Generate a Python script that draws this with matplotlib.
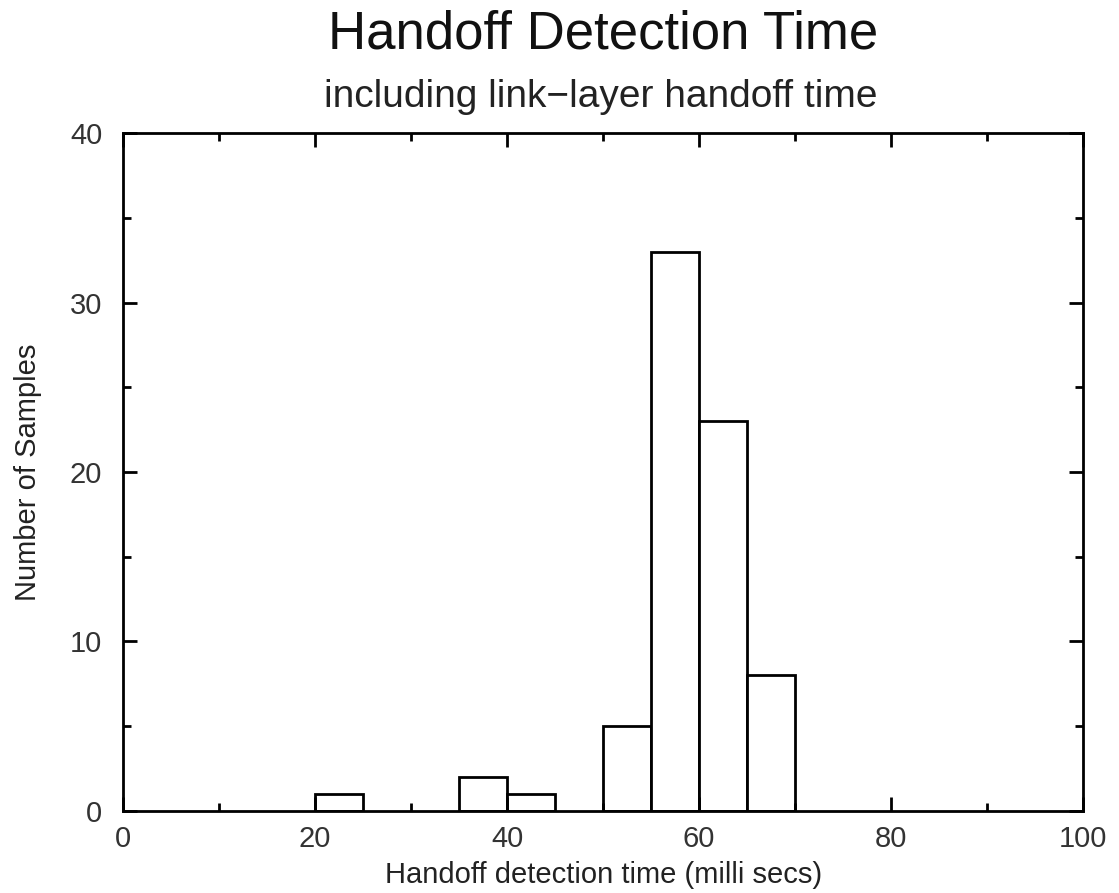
import matplotlib
matplotlib.use("Agg")
import matplotlib.pyplot as plt
from matplotlib.ticker import MultipleLocator

plt.rcParams['font.family'] = ['Liberation Sans', 'DejaVu Sans']

bin_left = [20, 35, 40, 50, 55, 60, 65]
counts = [1, 2, 1, 5, 33, 23, 8]
bin_width = 5

fig = plt.figure(figsize=(11.19, 8.93), dpi=100)
ax = fig.add_axes([0.110, 0.092, 0.858, 0.759])
ax.bar(bin_left, counts, width=bin_width, align='edge', facecolor='white',
       edgecolor='black', linewidth=2)
ax.set_xlim(0, 100)
ax.set_ylim(0, 40)
ax.xaxis.set_major_locator(MultipleLocator(20))
ax.xaxis.set_minor_locator(MultipleLocator(10))
ax.yaxis.set_major_locator(MultipleLocator(10))
ax.yaxis.set_minor_locator(MultipleLocator(5))
ax.tick_params(which='both', direction='in', top=True, right=True, width=2,
               labelsize=21, colors='black', labelcolor='#333333')
ax.tick_params(which='major', length=10)
ax.tick_params(axis='x', which='major', pad=10)
ax.tick_params(axis='y', which='major', pad=15)
ax.tick_params(which='minor', length=6)
for s in ax.spines.values():
    s.set_linewidth(2)
ax.set_xlabel('Handoff detection time (milli secs)', fontsize=21, color='#222222',
              va='center')
ax.xaxis.set_label_coords(0.5, -0.094)
ax.set_ylabel('Number of Samples', fontsize=21, color='#222222', va='center')
ax.yaxis.set_label_coords(-0.099, 0.5)
fig.text(0.539, 0.961, 'Handoff Detection Time', ha='center', va='center', fontsize=38, color='#111111')
fig.text(0.537, 0.891, 'including link\u2212layer handoff time', ha='center', va='center', fontsize=28, color='#222222')
fig.savefig('out.png', dpi=100, facecolor='white')
